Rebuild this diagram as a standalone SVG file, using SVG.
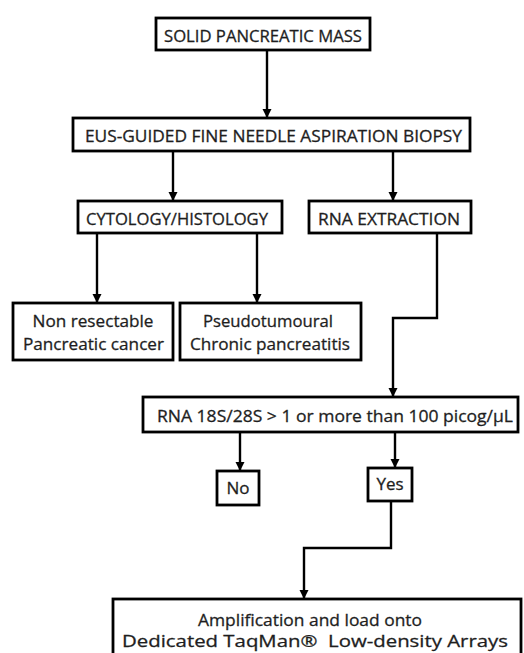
<svg xmlns="http://www.w3.org/2000/svg" width="524" height="653" viewBox="0 0 524 653">
<style>
.box{fill:#fff;stroke:#000;stroke-width:2.8}
.t{font-family:"Open Sans","Liberation Sans",sans-serif;font-size:17px;fill:#1e1e1e;stroke:#1e1e1e;stroke-width:0.3;text-anchor:middle}
.c{fill:none;stroke:#000;stroke-width:2.4}
</style>
<defs>
<marker id="ah" markerWidth="10" markerHeight="10" refX="8" refY="5" orient="auto" markerUnits="userSpaceOnUse">
<path d="M0,0.5 L9,5 L0,9.5 Z" fill="#000"/>
</marker>
</defs>
<rect width="524" height="653" fill="#fff"/>
<g id="connectors">
<path class="c" d="M267,51 V117" marker-end="url(#ah)"/>
<path class="c" d="M173,152 V200" marker-end="url(#ah)"/>
<path class="c" d="M393,152 V200" marker-end="url(#ah)"/>
<path class="c" d="M97,234 V302" marker-end="url(#ah)"/>
<path class="c" d="M257,234 V302" marker-end="url(#ah)"/>
<path class="c" d="M437,234 V318 H393 V396" marker-end="url(#ah)"/>
<path class="c" d="M240,433 V470" marker-end="url(#ah)"/>
<path class="c" d="M395,433 V467" marker-end="url(#ah)"/>
<path class="c" d="M391,502 V548 H304 V598" marker-end="url(#ah)"/>
</g>
<g id="solid">
<rect class="box" x="156" y="18" width="214" height="32"/>
<text class="t" x="263" y="42" textLength="198" lengthAdjust="spacingAndGlyphs">SOLID PANCREATIC MASS</text>
</g>
<g id="eus">
<rect class="box" x="73" y="118" width="397" height="33"/>
<text class="t" x="273.5" y="142" textLength="377" lengthAdjust="spacingAndGlyphs">EUS-GUIDED FINE NEEDLE ASPIRATION BIOPSY</text>
</g>
<g id="cytology">
<rect class="box" x="78" y="201" width="204" height="32"/>
<text class="t" x="177" y="225" textLength="182" lengthAdjust="spacingAndGlyphs">CYTOLOGY/HISTOLOGY</text>
</g>
<g id="rnaext">
<rect class="box" x="309" y="201" width="162" height="32"/>
<text class="t" x="389" y="225" textLength="142" lengthAdjust="spacingAndGlyphs">RNA EXTRACTION</text>
</g>
<g id="nonres">
<rect class="box" x="13" y="303" width="160" height="57"/>
<text class="t" x="93" y="327" textLength="121" lengthAdjust="spacingAndGlyphs">Non resectable</text>
<text class="t" x="93.5" y="350" textLength="141" lengthAdjust="spacingAndGlyphs">Pancreatic cancer</text>
</g>
<g id="pseudo">
<rect class="box" x="180" y="303" width="181" height="57"/>
<text class="t" x="268" y="327" textLength="130" lengthAdjust="spacingAndGlyphs">Pseudotumoural</text>
<text class="t" x="270" y="350" textLength="160" lengthAdjust="spacingAndGlyphs">Chronic pancreatitis</text>
</g>
<g id="ratio">
<rect class="box" x="143" y="397" width="375" height="35"/>
<text class="t" x="335" y="422" textLength="356" lengthAdjust="spacingAndGlyphs">RNA 18S/28S &gt; 1 or more than 100 picog/µL</text>
</g>
<g id="no">
<rect class="box" x="217" y="471" width="42" height="34"/>
<text class="t" x="238" y="494">No</text>
</g>
<g id="yes">
<rect class="box" x="368" y="468" width="44" height="33"/>
<text class="t" x="390" y="490">Yes</text>
</g>
<g id="amp">
<rect class="box" x="113" y="599" width="408" height="62"/>
<text class="t" x="310" y="626" textLength="224" lengthAdjust="spacingAndGlyphs">Amplification and load onto</text>
<text class="t" x="315" y="647" textLength="386" lengthAdjust="spacingAndGlyphs" xml:space="preserve">Dedicated TaqMan®  Low-density Arrays</text>
</g>
</svg>
